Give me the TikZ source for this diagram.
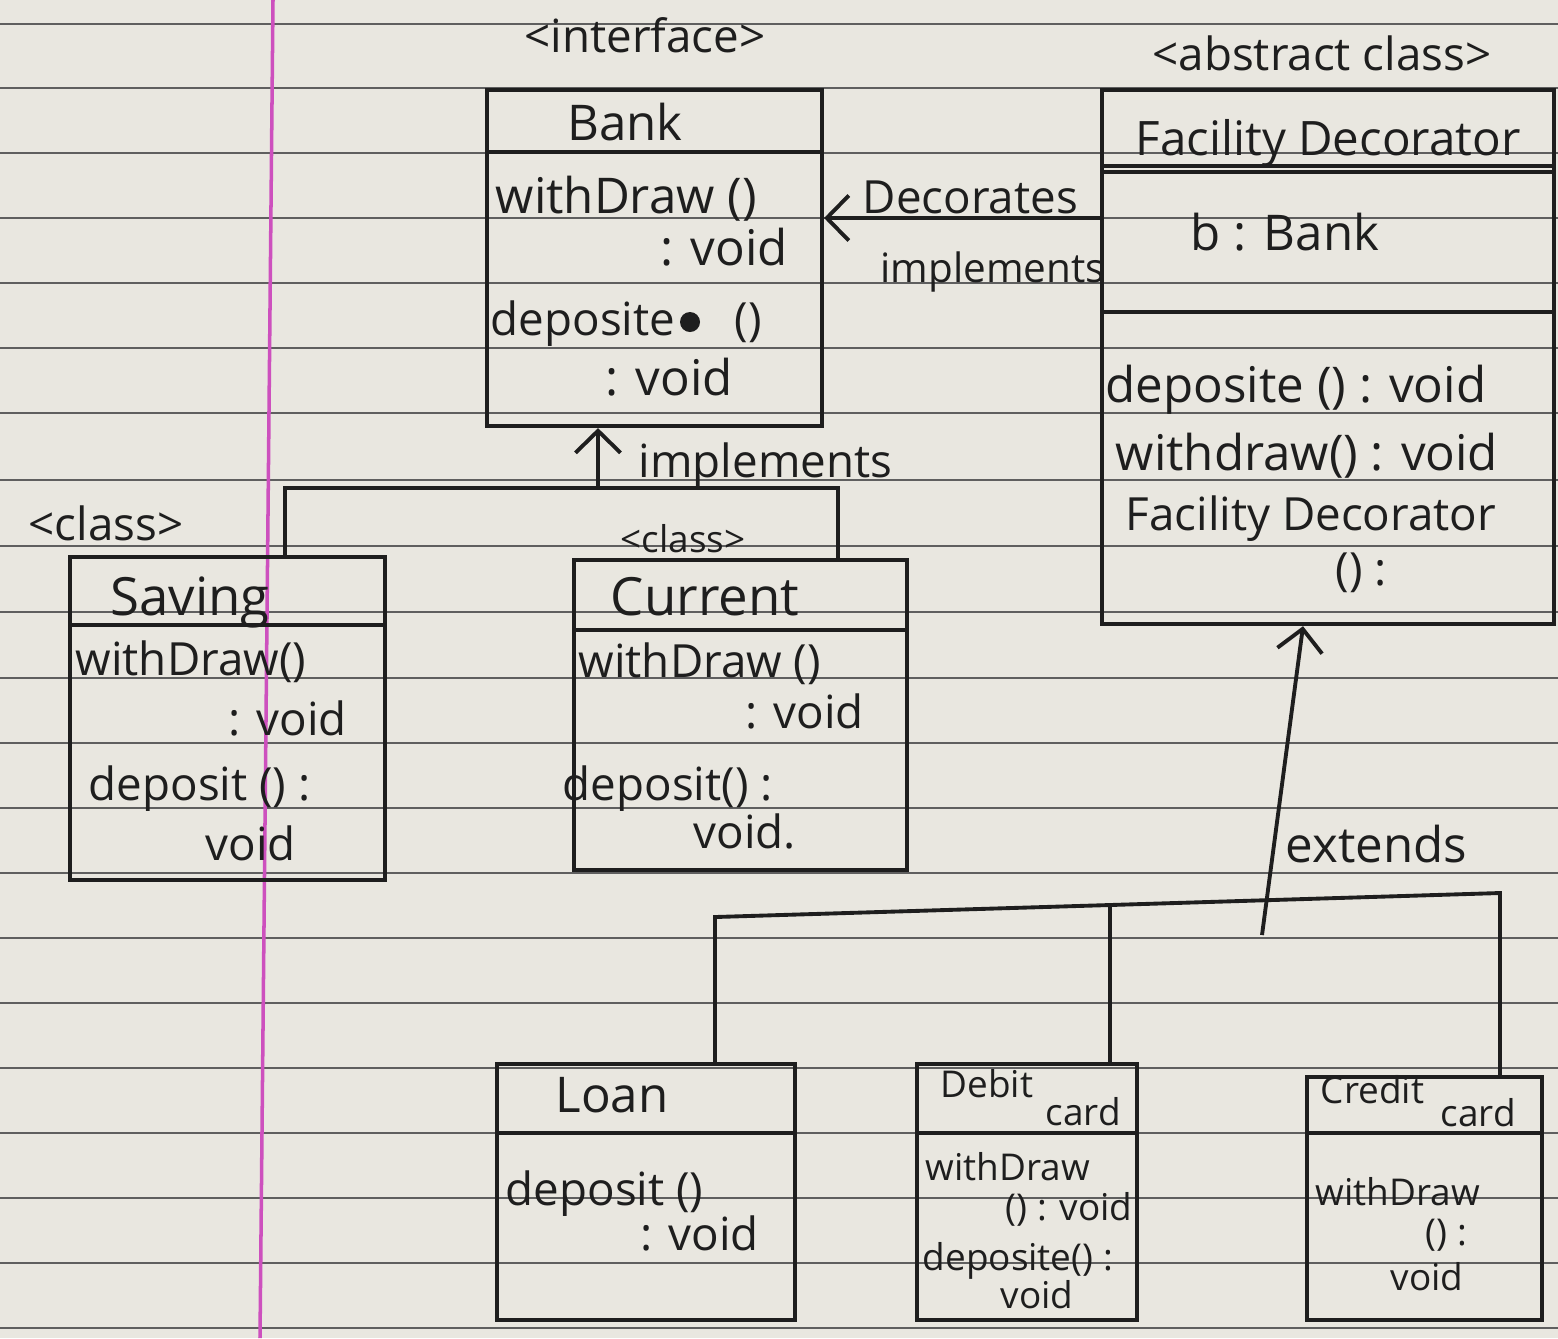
\documentclass[tikz,border=0pt]{standalone}
\usepackage{fontspec}
\setmainfont{Open Sans}
\usetikzlibrary{arrows.meta}
\definecolor{paper}{RGB}{233,231,224}
\definecolor{ruleline}{RGB}{95,95,95}
\definecolor{marginpink}{RGB}{205,80,190}
\definecolor{ink}{RGB}{30,30,30}
\tikzset{
  ruled/.style={draw=ruleline, line width=0.7pt},
  umlbox/.style={draw=ink, line width=1.1pt, anchor=north west, inner sep=0pt, rectangle},
  sep/.style={draw=ink, line width=1.1pt},
  wire/.style={draw=ink, line width=1.1pt},
  arr/.style={draw=ink, line width=1.1pt, -{Straight Barb[length=2.2mm,width=4.5mm,line width=1.1pt]}},
  hw/.style={font=\fontsize{13}{15}\selectfont, text=ink, inner sep=0pt, anchor=base west},
  hwc/.style={hw, anchor=base},
  hws/.style={font=\fontsize{10.5}{12}\selectfont, text=ink, inner sep=0pt, anchor=base west},
}
\begin{document}
\begin{tikzpicture}[x=0.01cm, y=-0.01cm]
\useasboundingbox (0,0) rectangle (1558,1338);
\fill[paper] (0,0) rectangle (1558,1338);
% notebook ruling
\foreach \yy in {24,88,153,218,283,348,413,480,546,612,678,743,808,873,938,1003,1068,1133,1198,1263,1328}
  \draw[ruled] (0,\yy) -- (1558,\yy);
\draw[draw=marginpink, line width=1pt] (273,0) -- (260,1338);

% ---- boxes ----
\node[umlbox, minimum width=3.35cm, minimum height=3.36cm] (bank) at (485,88) {};
\node[umlbox, minimum width=4.52cm, minimum height=5.34cm] (fd) at (1100,88) {};
\node[umlbox, minimum width=3.15cm, minimum height=3.23cm] (saving) at (68,555) {};
\node[umlbox, minimum width=3.33cm, minimum height=3.10cm] (current) at (572,558) {};
\node[umlbox, minimum width=2.98cm, minimum height=2.56cm] (loan) at (495,1062) {};
\node[umlbox, minimum width=2.20cm, minimum height=2.56cm] (debit) at (915,1062) {};
\node[umlbox, minimum width=2.35cm, minimum height=2.43cm] (credit) at (1305,1075) {};

% separators
\coordinate (sBank) at (0,152);
\draw[sep] (bank.west |- sBank) -- (bank.east |- sBank);
\coordinate (sFdA) at (0,166);
\coordinate (sFdB) at (0,172);
\coordinate (sFdC) at (0,312);
\draw[sep] (fd.west |- sFdA) -- (fd.east |- sFdA);
\draw[sep] (fd.west |- sFdB) -- (fd.east |- sFdB);
\draw[sep] (fd.west |- sFdC) -- (fd.east |- sFdC);
\coordinate (sSav) at (0,625);
\draw[sep] (saving.west |- sSav) -- (saving.east |- sSav);
\coordinate (sCur) at (0,630);
\draw[sep] (current.west |- sCur) -- (current.east |- sCur);
\coordinate (sCard) at (0,1133);
\draw[sep] (loan.west |- sCard) -- (loan.east |- sCard);
\draw[sep] (debit.west |- sCard) -- (debit.east |- sCard);
\draw[sep] (credit.west |- sCard) -- (credit.east |- sCard);

% ---- texts ----
\node[hwc] (tIface) at (645,52) {<interface>};
\node[hwc, font=\fontsize{14}{16}\selectfont] (tBank) at (625,140) {Bank};
\node[hw, font=\fontsize{14}{16}\selectfont] (tB1) at (495,213) {withDraw ()};
\node[hw, font=\fontsize{14}{16}\selectfont] (tB2) at (660,265) {: void};
\node[hw, font=\fontsize{13}{16}\selectfont] (tB3) at (490,335) {deposite~~~~ ()};
\fill[ink] (690,322) circle[radius=0.1cm];
\node[hw, font=\fontsize{14}{16}\selectfont] (tB4) at (605,395) {: void};

\node[hw] (tDec) at (862,213) {Decorates};
\node[hw, font=\fontsize{11.5}{14}\selectfont] (tImp1) at (880,282) {implements};

\node[hwc] (tAbs) at (1322,70) {<abstract class>};
\node[hw, font=\fontsize{13.5}{16}\selectfont] (tFd) at (1135,155) {Facility Decorator};
\node[hw, font=\fontsize{14}{16}\selectfont] (tF1) at (1190,250) {b : Bank};
\node[hw, font=\fontsize{14}{16}\selectfont] (tF2) at (1105,402) {deposite () : void};
\node[hw, font=\fontsize{14}{16}\selectfont] (tF3) at (1115,470) {withdraw() : void};
\node[hw] (tF4) at (1125,530) {Facility Decorator};
\node[hw] (tF5) at (1335,585) {() :};

\node[hw] (tImp2) at (638,477) {implements};

\node[hw] (tCls1) at (28,540) {<class>};
\node[hwc, font=\fontsize{15}{17}\selectfont] (tSav) at (190,615) {Saving};
\node[hw] (tS1) at (75,675) {withDraw()};
\node[hw] (tS2) at (228,735) {: void};
\node[hw] (tS3) at (88,800) {deposit () :};
\node[hw] (tS4) at (205,860) {void};

\node[hws] (tCls2) at (620,552) {<class>};
\node[hwc, font=\fontsize{15}{17}\selectfont] (tCur) at (705,615) {Current};
\node[hw] (tC1) at (578,677) {withDraw ()};
\node[hw] (tC2) at (745,728) {: void};
\node[hw] (tC3) at (562,800) {deposit() :};
\node[hw] (tC4) at (693,848) {void.};

\node[hw, font=\fontsize{14}{16}\selectfont] (tExt) at (1285,862) {extends};

\node[hwc, font=\fontsize{14}{16}\selectfont] (tLoan) at (612,1112) {Loan};
\node[hw] (tL1) at (505,1205) {deposit ()};
\node[hw] (tL2) at (640,1250) {: void};

\node[hws] (tDb1) at (940,1097) {Debit};
\node[hws] (tDb2) at (1045,1125) {card};
\node[hws] (tD1) at (925,1180) {withDraw};
\node[hws] (tD2) at (1005,1220) {() : void};
\node[hws] (tD3) at (922,1270) {deposite() :};
\node[hws] (tD4) at (1000,1308) {void};

\node[hws] (tCr1) at (1320,1103) {Credit};
\node[hws] (tCr2) at (1440,1126) {card};
\node[hws] (tK1) at (1315,1205) {withDraw};
\node[hws] (tK2) at (1425,1245) {() :};
\node[hws] (tK3) at (1390,1290) {void};

% ---- connectors ----
% decorates / implements (FacilityDecorator -> Bank)
\coordinate (decY) at (0,218);
\draw[arr] (fd.west |- decY) -- (bank.east |- decY);

% Saving, Current implement Bank
\coordinate (ja) at (285,488);
\coordinate (jb) at (838,488);
\coordinate (jc) at (598,488);
\draw[wire] (saving.north -| ja) -- (ja) -- (jb) -- (current.north -| jb);
\draw[arr] (jc) -- (bank.south -| jc);

% Loan, Debit, Credit extend FacilityDecorator
\coordinate (ka) at (715,917);
\coordinate (kb) at (1110,905);
\coordinate (kc) at (1500,893);
\draw[wire] (loan.north -| ka) -- (ka) -- (kb) -- (kc) -- (credit.north -| kc);
\draw[wire] (kb) -- (debit.north -| kb);
\coordinate (eb) at (1262,935);
\coordinate (et) at (1303,0);
\draw[arr] (eb) -- (fd.south -| et);
\end{tikzpicture}
\end{document}
